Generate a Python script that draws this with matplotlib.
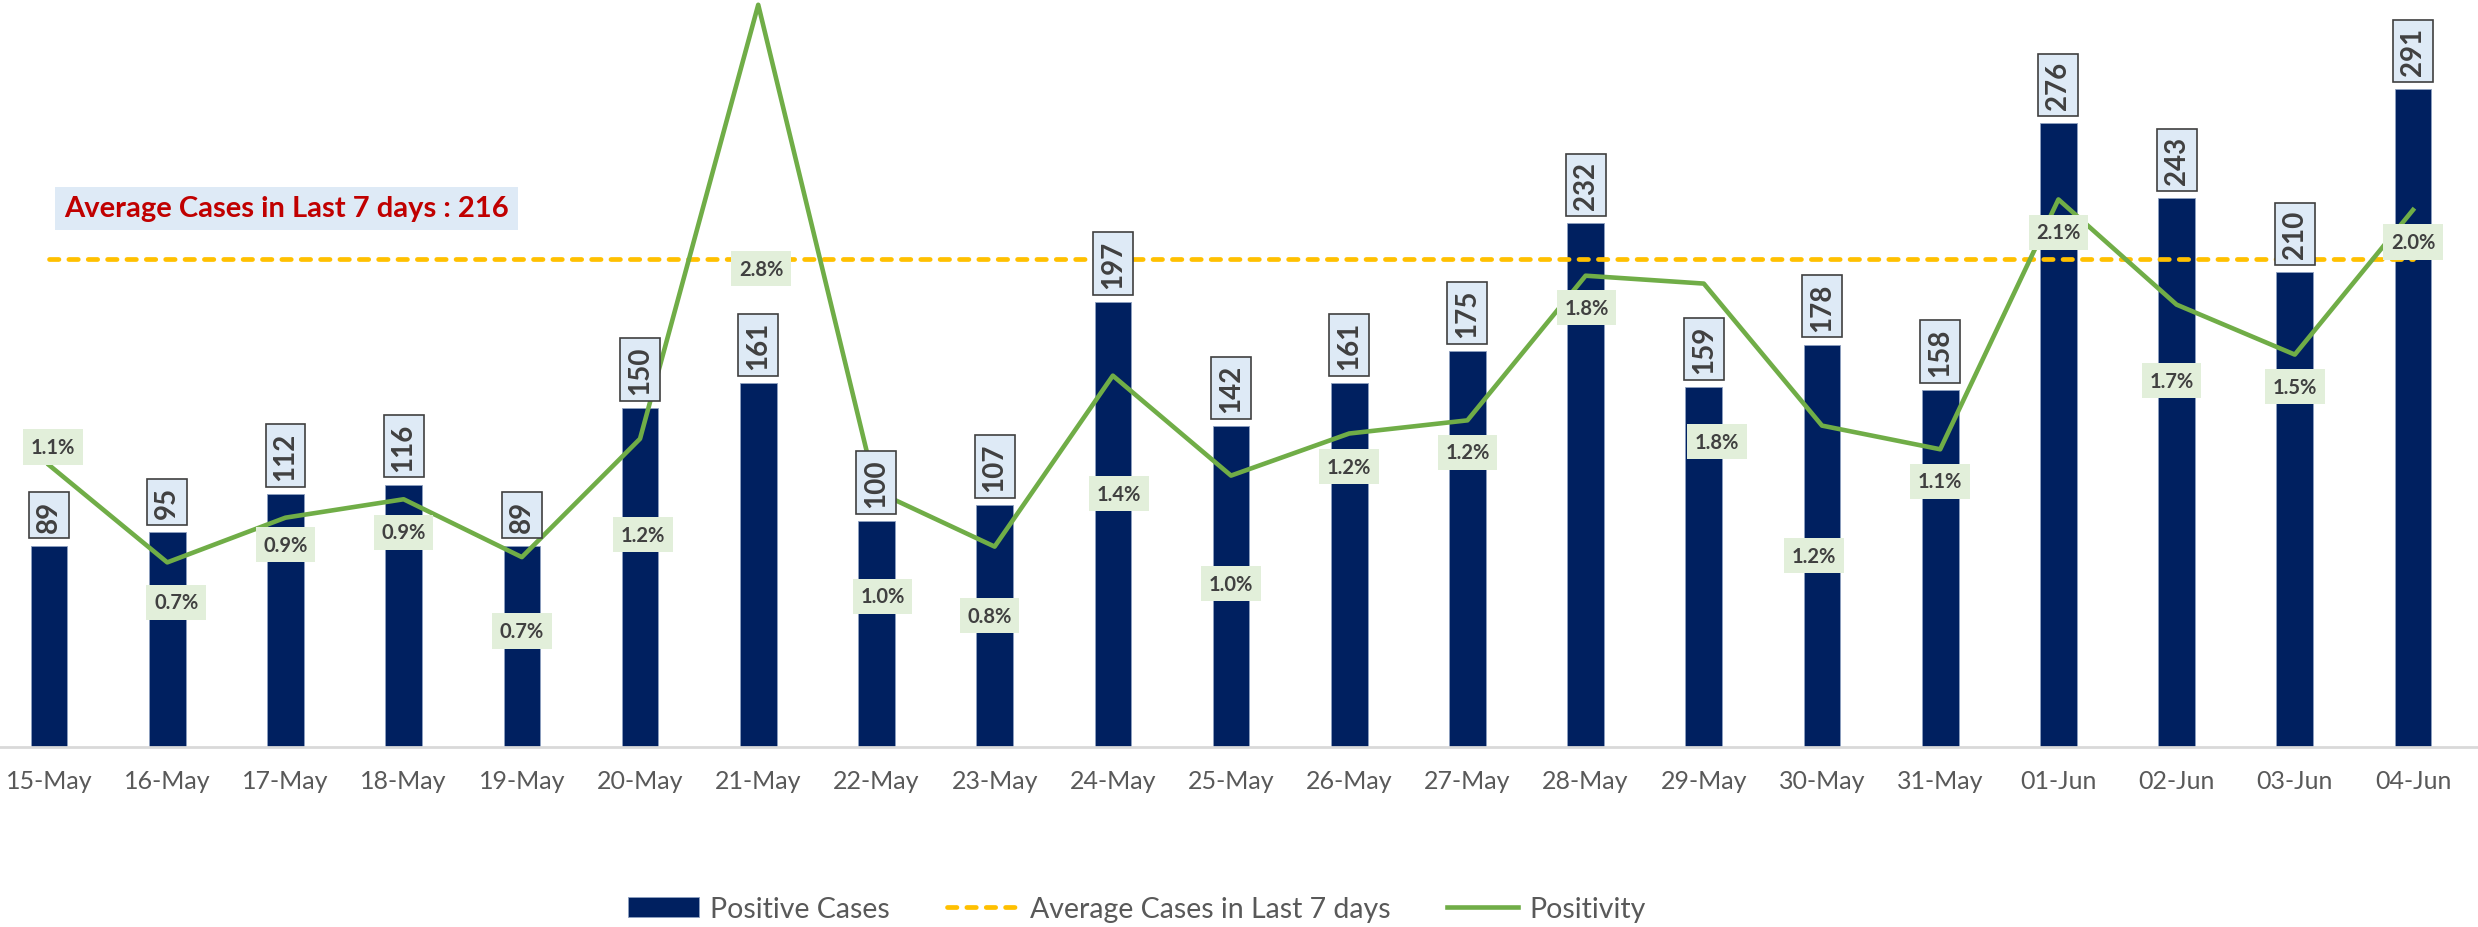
import matplotlib.pyplot as plt

plt.rcParams['font.family'] = ['Lato', 'DejaVu Sans']

dates = ["15-May", "16-May", "17-May", "18-May", "19-May", "20-May", "21-May",
         "22-May", "23-May", "24-May", "25-May", "26-May", "27-May", "28-May",
         "29-May", "30-May", "31-May", "01-Jun", "02-Jun", "03-Jun", "04-Jun"]
cases = [89, 95, 112, 116, 89, 150, 161, 100, 107, 197, 142, 161, 175, 232,
         159, 178, 158, 276, 243, 210, 291]
positivity = [1.07, 0.70, 0.87, 0.94, 0.72, 1.17, 2.82, 0.97, 0.76, 1.41, 1.03,
              1.19, 1.24, 1.79, 1.76, 1.22, 1.13, 2.08, 1.68, 1.49, 2.04]
avg_cases = 216

# where the % boxes sit relative to their point (pixels, +down)
pct_dx = [4, 9, 0, 0, 0, 3, 3, 6, -5, 6, 0, 0, 0, 1, 13, -8, 0, 0, -5, 0, 0]
pct_dy = [-18, 40, 27, 33, 74, 96, 264, 105, 69, 118, 108, 33, 32, 32, 158, 130, 32, 33, 76, 32, 32]

W, H = 2478, 928
fig = plt.figure(figsize=(W / 100, H / 100), dpi=100)
ax = fig.add_axes([0, 180.5 / H, 1, 747.5 / H])
x = list(range(len(dates)))

bars = ax.bar(x, cases, width=0.31, color="#002060", edgecolor="#8EA0C0",
              linewidth=0.6, zorder=2, label="Positive Cases")
avg_line, = ax.plot(x, [avg_cases] * len(x), color="#FFC000", lw=3.4,
                    linestyle=(0, (2.0, 2.1)), dash_capstyle="round", zorder=3,
                    label="Average Cases in Last 7 days")
ax.set_xlim(-0.415, 20.55)
ax.set_ylim(0, 331)
ax.set_yticks([])
for s in ["top", "right", "left"]:
    ax.spines[s].set_visible(False)
ax.spines["bottom"].set_color("#D9D9D9")
ax.spines["bottom"].set_linewidth(2)
ax.set_xticks(x)
ax.set_xticklabels(dates, fontsize=18, color="#595959")
ax.tick_params(axis="x", length=0, pad=16)

ax2 = ax.twinx()
ax2.set_ylim(0, 2.842)
ax2.axis("off")
pos_line, = ax2.plot(x, positivity, color="#70AD47", lw=3.3, solid_joinstyle="round",
                     zorder=3, label="Positivity")

# bar value labels
for i, v in zip(x, cases):
    ax2.annotate(str(v), xy=(i, v), xycoords=ax.transData, xytext=(0, 14),
                 textcoords="offset pixels", rotation=90, ha="center", va="bottom",
                 fontsize=20, fontweight="bold", color="#404040", zorder=5,
                 bbox=dict(boxstyle="square,pad=0.25", fc="#DEEAF6", ec="#404040", lw=1.2))

# positivity labels
for i, p, dx, dy in zip(x, positivity, pct_dx, pct_dy):
    ax2.annotate(f"{p:.1f}%", xy=(i, p), xytext=(dx, -dy),
                 textcoords="offset pixels", ha="center", va="center",
                 fontsize=14.5, fontweight="bold", color="#404040", zorder=6,
                 bbox=dict(boxstyle="square,pad=0.38", fc="#E2EFDA", ec="none"))

fig.text(64 / W, 1 - 209.5 / H, f"Average Cases in Last 7 days : {avg_cases}",
         fontsize=21, fontweight="bold", color="#C00000", ha="left", va="center",
         bbox=dict(boxstyle="square,pad=0.3", fc="#DEEAF6", ec="none"))

fig.legend(handles=[bars, avg_line, pos_line], loc="center", ncol=3,
           bbox_to_anchor=(1137 / W, 18 / H), frameon=False, fontsize=20.5,
           labelcolor="#595959", handlelength=2.5, handletextpad=0.4,
           columnspacing=2.0)

fig.savefig("out.png", dpi=100)
